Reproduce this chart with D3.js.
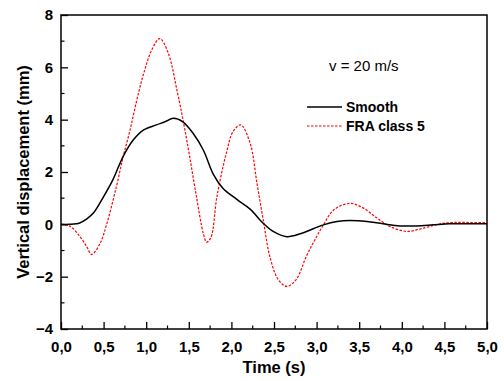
<!DOCTYPE html>
<html>
<head>
<meta charset="utf-8">
<script src="https://cdn.jsdelivr.net/npm/d3@7"></script>
<style>
  body { margin: 0; background: #fff; }
  svg { display: block; font-family: "Liberation Sans", Arial, sans-serif; }
</style>
</head>
<body>
<svg id="chart" width="504" height="381"></svg>
<script>
// Vertical displacement response over time for two track profiles
const smoothT = [0, 0.1, 0.22, 0.3, 0.38, 0.5, 0.61, 0.73, 0.85, 0.97, 1.12, 1.22, 1.32, 1.43, 1.55, 1.67, 1.79, 1.9, 2.06, 2.22, 2.37, 2.49, 2.65, 2.81, 2.96, 3.08, 3.24, 3.39, 3.59, 3.78, 3.98, 4.17, 4.37, 4.56, 4.8, 5.0];
const smoothV = [0, 0.0, 0.05, 0.2, 0.43, 1.06, 1.71, 2.6, 3.23, 3.61, 3.8, 3.92, 4.05, 3.92, 3.48, 2.84, 1.9, 1.38, 0.96, 0.58, 0.05, -0.27, -0.47, -0.36, -0.17, -0.02, 0.11, 0.15, 0.11, 0.02, -0.06, -0.06, -0.02, 0.02, 0.02, 0.02];

const fraT = [0, 0.11, 0.22, 0.3, 0.36, 0.46, 0.54, 0.65, 0.73, 0.81, 0.89, 0.97, 1.07, 1.16, 1.26, 1.36, 1.44, 1.51, 1.59, 1.67, 1.71, 1.76, 1.83, 1.94, 2.02, 2.11, 2.22, 2.3, 2.38, 2.45, 2.55, 2.65, 2.76, 2.88, 2.98, 3.08, 3.2, 3.39, 3.55, 3.71, 3.86, 4.06, 4.25, 4.45, 4.6, 4.8, 5.0];
const fraV = [0, -0.08, -0.46, -0.84, -1.15, -0.72, 0.05, 1.44, 2.59, 3.6, 4.75, 5.76, 6.7, 7.1, 6.53, 5.14, 3.86, 2.59, 1.06, -0.34, -0.68, -0.5, 1.06, 2.71, 3.55, 3.8, 3.1, 1.57, 0.05, -1.22, -2.11, -2.37, -2.11, -1.22, -0.59, -0.02, 0.55, 0.8, 0.62, 0.24, -0.08, -0.27, -0.15, 0.02, 0.07, 0.07, 0.07];

const xTicks = [0, 0.5, 1, 1.5, 2, 2.5, 3, 3.5, 4, 4.5, 5];
const yTicks = [-4, -2, 0, 2, 4, 6, 8];

const seriesNames = ["Smooth", "FRA class 5"];

const svg = d3.select("#chart");
const m = { left: 61, right: 17, top: 15, bottom: 52 };
const W = 504, H = 381;
const x = d3.scaleLinear().domain([0, 5]).range([m.left, W - m.right]);
const y = d3.scaleLinear().domain([-4, 8]).range([H - m.bottom, m.top]);

const fmt = d => d3.format(".1f")(d).replace(".", ",");
const tickFont = 15;
const titleFont = 16.5;

// bottom axis: major ticks inside, minor ticks between
const xMinor = d3.range(0.25, 5, 0.5);
const gx = svg.append("g").attr("transform", `translate(0,${y(-4)})`);
gx.call(d3.axisBottom(x).tickValues(xTicks).tickSize(-7).tickPadding(12).tickFormat(fmt));
gx.selectAll(".tick line").attr("stroke", "#000").attr("stroke-width", 1.3);
gx.selectAll(".tick text").attr("font-size", tickFont).attr("font-weight", "bold").attr("fill", "#000")
  .attr("font-family", "Liberation Sans, Arial, sans-serif");
gx.select(".domain").remove();
gx.selectAll(".minor").data(xMinor).enter().append("line")
  .attr("x1", d => x(d)).attr("x2", d => x(d)).attr("y1", 0).attr("y2", -3.5)
  .attr("stroke", "#000").attr("stroke-width", 1.2);

// left axis
const yMinor = d3.range(-3, 8, 2);
const gy = svg.append("g").attr("transform", `translate(${x(0)},0)`);
gy.call(d3.axisLeft(y).tickValues(yTicks).tickSize(-7).tickPadding(8).tickFormat(d3.format("d")));
gy.selectAll(".tick line").attr("stroke", "#000").attr("stroke-width", 1.3);
gy.selectAll(".tick text").attr("font-size", tickFont).attr("font-weight", "bold").attr("fill", "#000")
  .attr("font-family", "Liberation Sans, Arial, sans-serif");
gy.select(".domain").remove();
gy.selectAll(".minor").data(yMinor).enter().append("line")
  .attr("y1", d => y(d)).attr("y2", d => y(d)).attr("x1", 0).attr("x2", 3.5)
  .attr("stroke", "#000").attr("stroke-width", 1.2);

// frame
svg.append("rect")
  .attr("x", x(0)).attr("y", y(8))
  .attr("width", x(5) - x(0)).attr("height", y(-4) - y(8))
  .attr("fill", "none").attr("stroke", "#000").attr("stroke-width", 1.5);

// curves
const line = d3.line().x(d => x(d[0])).y(d => y(d[1])).curve(d3.curveCatmullRom.alpha(0.5));
const smooth = smoothT.map((t, i) => [t, smoothV[i]]);
const fra = fraT.map((t, i) => [t, fraV[i]]);

svg.append("path").datum(fra).attr("d", line)
  .attr("fill", "none").attr("stroke", "#ff0000").attr("stroke-width", 1.2)
  .attr("stroke-dasharray", "2.5,1.5");
svg.append("path").datum(smooth).attr("d", line)
  .attr("fill", "none").attr("stroke", "#000").attr("stroke-width", 1.5);

// axis titles
svg.append("text").attr("x", (x(0) + x(5)) / 2).attr("y", 373)
  .attr("text-anchor", "middle").attr("font-size", titleFont).attr("font-weight", "bold")
  .text("Time (s)");
svg.append("text")
  .attr("transform", `translate(29,${(y(8) + y(-4)) / 2}) rotate(-90)`)
  .attr("text-anchor", "middle").attr("font-size", titleFont).attr("font-weight", "bold")
  .text("Vertical displacement (mm)");

// annotation and legend
svg.append("text").attr("x", 329).attr("y", 71).attr("font-size", 15).text("v = 20 m/s");
const legend = svg.append("g");
const styles = [
  { stroke: "#000", dash: null, width: 1.4 },
  { stroke: "#ff0000", dash: "2.5,1.5", width: 1.2 }
];
seriesNames.forEach((name, i) => {
  const ly = 107 + i * 19;
  legend.append("line").attr("x1", 307).attr("x2", 342).attr("y1", ly).attr("y2", ly)
    .attr("stroke", styles[i].stroke).attr("stroke-width", styles[i].width)
    .attr("stroke-dasharray", styles[i].dash);
  legend.append("text").attr("x", 346).attr("y", ly + 5).attr("font-size", 14)
    .attr("font-weight", "bold").text(name);
});
</script>
</body>
</html>
